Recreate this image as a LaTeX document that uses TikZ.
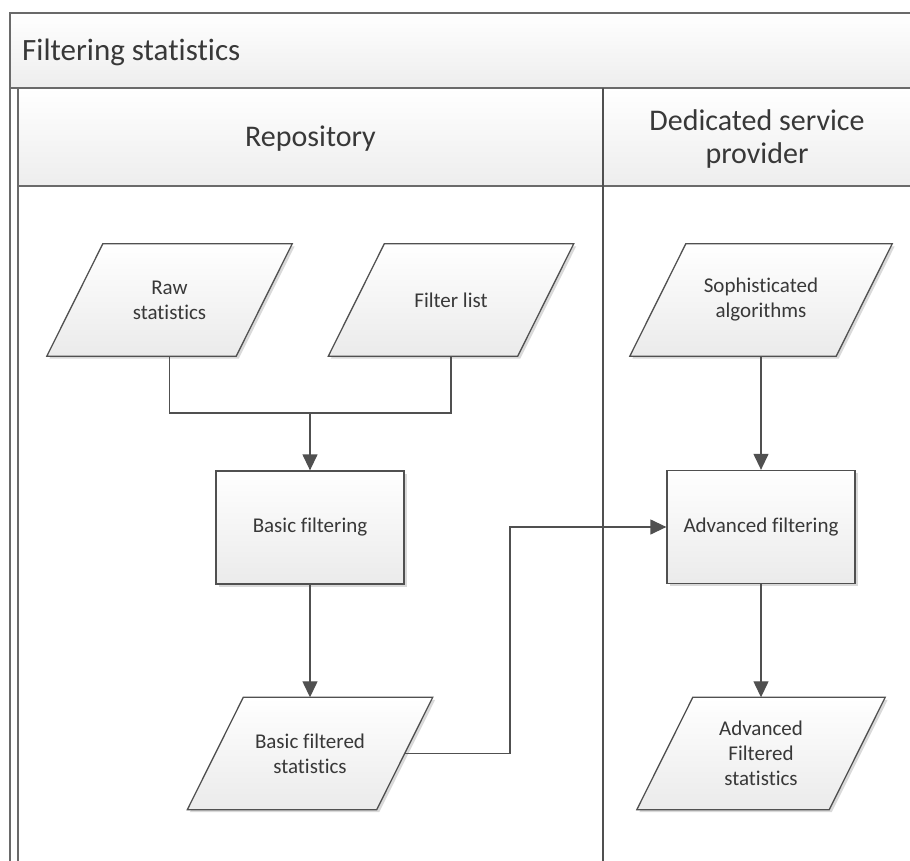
\documentclass[tikz,border=0pt]{standalone}
\usepackage{fontspec}
\setmainfont{Carlito}[Ligatures=NoCommon]
\usetikzlibrary{arrows.meta,shadows,calc}
\pgfdeclarelayer{bg}
\pgfdeclarelayer{shp}
\pgfsetlayers{bg,shp,main}
\definecolor{edge}{HTML}{505050}
\definecolor{txt}{HTML}{383838}
\definecolor{frame}{HTML}{6A6A6A}
\tikzset{
  lanefill/.style={top color=white,bottom color=black!7},
  frameline/.style={draw=frame,line width=1.8pt},
  laneline/.style={draw=edge,line width=1.3pt},
  shadowed/.style={drop shadow={shadow xshift=2.5pt,shadow yshift=-2.5pt,opacity=0.15,fill=black}},
  iobox/.style={minimum width=189pt,minimum height=112pt,inner sep=0pt,align=center,
    font=\fontsize{21}{25}\selectfont,text=txt},
  procbox/.style={draw=edge,line width=1.3pt,top color=white,bottom color=black!8,shadowed,
    minimum width=188pt,minimum height=113pt,inner sep=0pt,align=center,
    font=\fontsize{21}{25}\selectfont,text=txt},
  parafill/.style={draw=edge,line width=1.3pt,top color=white,bottom color=black!8,shadowed},
  conn/.style={draw=edge,line width=1.3pt},
  arr/.style={conn,-{Triangle[length=16pt,width=15pt]}},
  headtext/.style={font=\fontsize{30}{33}\selectfont,text=txt,inner sep=0pt,align=center}
}
\newcommand\iopara[1]{\path[parafill] ([xshift=28pt]#1.north west) -- ([xshift=28pt]#1.north east) -- ([xshift=-28pt]#1.south east) -- ([xshift=-28pt]#1.south west) -- cycle;}
\begin{document}
\begin{tikzpicture}[x=1pt,y=-1pt]
\useasboundingbox (0,0) rectangle (910,861);
% pool and lanes
\begin{pgfonlayer}{bg}
  \fill[lanefill] (10,13) rectangle (914,88);
  \fill[lanefill] (18,88) rectangle (914,186);
  \draw[frameline] (914,13) -- (10,13) -- (10,865);
  \draw[frameline] (10,88) -- (914,88);
  \draw[frameline] (18,88) -- (18,865);
  \draw[frameline] (18,186) -- (914,186);
  \draw[laneline] (603,88) -- (603,865);
\end{pgfonlayer}
\node[headtext,font=\fontsize{31}{34}\selectfont,anchor=base west] (title) at (22,61) {Filtering statistics};
\node[headtext,anchor=base] (repo) at (310.5,147) {Repository};
\node[headtext] (dsp) at (757,139) {Dedicated service\\provider};
% shapes
\node[iobox] (raw) at (169.5,300) {Raw\\statistics};
\node[iobox] (flist) at (451,300) {Filter list};
\node[procbox] (basic) at (310,527.5) {Basic filtering};
\node[iobox] (bfs) at (310,753.5) {Basic filtered\\statistics};
\node[iobox,minimum width=206pt] (soph) at (761,300) {Sophisticated\\algorithms};
\node[procbox] (adv) at (761,527) {Advanced filtering};
\node[iobox,minimum width=192pt] (afs) at (761,753.5) {Advanced\\Filtered\\statistics};
\begin{pgfonlayer}{shp}
  \iopara{raw}
  \iopara{flist}
  \iopara{bfs}
  \iopara{soph}
  \iopara{afs}
\end{pgfonlayer}
% connectors
\coordinate (merge) at (310,413);
\coordinate (jog) at (510,754);
\draw[conn] (raw.south) |- (merge) -| (flist.south);
\draw[arr] (merge) -- (basic.north);
\draw[arr] (basic.south) -- (bfs.north);
\draw[arr] (bfs.east) -- (bfs.east -| jog) |- (adv.west);
\draw[arr] (soph.south) -- (adv.north);
\draw[arr] (adv.south) -- (afs.north);
\end{tikzpicture}
\end{document}
